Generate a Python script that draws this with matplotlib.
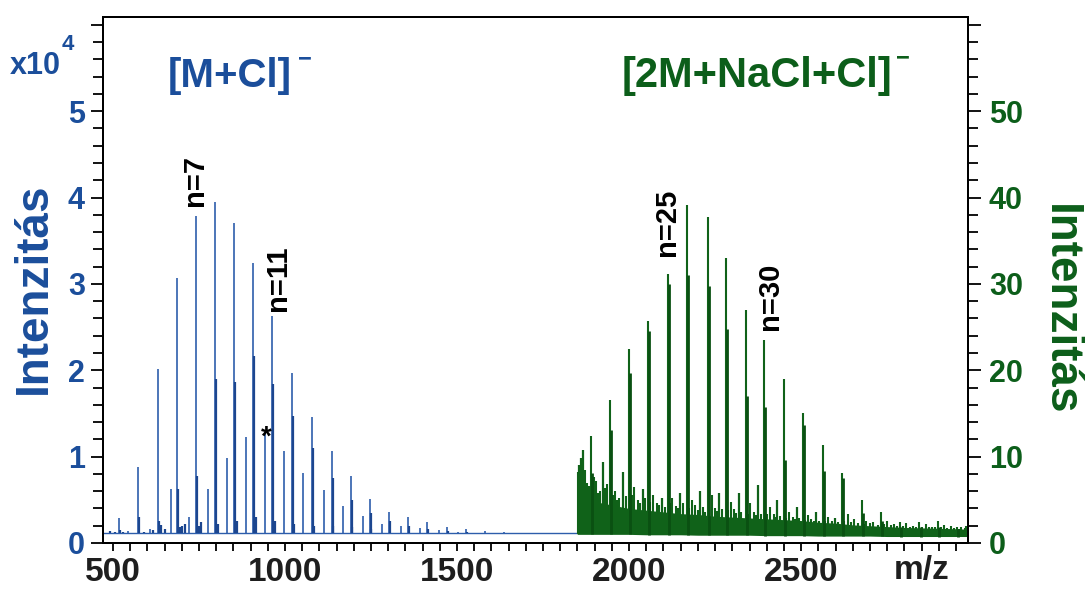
import matplotlib
matplotlib.use("Agg")
import matplotlib.pyplot as plt
import numpy as np
from matplotlib.ticker import MultipleLocator

# ---------------- data ----------------
# [M+Cl]- series, left axis (x10^4)
blue_main_mz = [517, 574, 630, 685, 742, 797, 853, 908, 963, 1019, 1079, 1136,
                1191, 1247, 1302, 1358, 1414, 1470, 1525, 1581, 1637]
blue_main_int = [0.29, 0.885, 2.01, 3.07, 3.79, 3.95, 3.71, 3.24, 2.63, 1.97, 1.46,
                 1.07, 0.77, 0.51, 0.36, 0.30, 0.24, 0.19, 0.16, 0.14, 0.13]
blue_comp_int = [0.15, 0.30, 0.25, 0.62, 0.77, 1.90, 1.86, 2.16, 1.84, 1.47, 1.10,
                 0.75, 0.50, 0.35, 0.25, 0.20, 0.16, 0.14, 0.13, 0.12, 0.12]
blue_sec_mz = [545, 607, 668, 720, 775, 830, 887, 942, 998, 1053, 1113, 1169,
               1226, 1281, 1336, 1392, 1448, 1503, 1560]
blue_sec_int = [0.14, 0.16, 0.62, 0.30, 0.63, 0.98, 1.23, 1.28, 1.06, 0.81, 0.61,
                0.43, 0.31, 0.22, 0.20, 0.17, 0.15, 0.13, 0.12]
blue_small_mz = [490, 505, 530, 590, 615, 640, 650, 695, 700, 709, 750, 755, 805,
                 860, 915, 970, 1025, 1085, 1140, 1195, 1250]
blue_small_int = [0.14, 0.13, 0.13, 0.13, 0.15, 0.21, 0.16, 0.18, 0.20, 0.22, 0.20,
                  0.24, 0.22, 0.25, 0.30, 0.25, 0.22, 0.20, 0.20, 0.18, 0.16]
blue_baseline_mz = [471, 1845]
blue_baseline_int = [0.11, 0.11]

# [2M+NaCl+Cl]- series, right axis
green_main_mz = [1890, 1945, 2000, 2056, 2112, 2168, 2229, 2282, 2339, 2393, 2449,
                 2505, 2563, 2618, 2676, 2733, 2788, 2844, 2899, 2953]
green_main_int = [12.4, 16.6, 22.5, 25.7, 31.2, 39.1, 37.7, 33.0, 27.0, 23.5, 19.0,
                  15.0, 11.4, 8.1, 5.0, 3.6, 2.4, 2.4, 2.5, 1.9]
green_comp_int = [8.1, 13.1, 19.7, 24.5, 30.0, 31.0, 29.7, 24.8, 17.0, 15.8, 9.6,
                  13.7, 8.3, 7.5, 3.5, 2.5, 1.9, 1.9, 1.9, 1.6]
green_sec_mz = [1853, 1860, 1867, 1924, 1983, 2039, 2095, 2148, 2206, 2262, 2318,
                2374, 2431, 2488, 2544, 2599]
green_sec_int = [9.0, 9.8, 10.8, 9.4, 8.2, 6.3, 5.2, 5.8, 6.0, 5.8, 5.8, 6.7, 5.0,
                 4.2, 3.6, 2.9]
green_small_mz = [1851, 1856, 1863, 1872, 1878, 1884, 1897, 1905, 1911, 1915, 1931,
                  1935, 1952, 1960, 1966, 1972, 1990, 2008, 2015, 2025, 2031, 2046,
                  2062, 2070, 2080, 2087, 2103, 2118, 2125, 2135, 2141, 2157, 2175,
                  2182, 2192, 2199, 2214, 2222, 2240, 2250, 2256, 2270, 2288, 2295,
                  2305, 2312, 2326, 2345, 2352, 2362, 2368, 2382, 2400, 2410, 2420,
                  2425, 2440, 2457, 2465, 2475, 2481, 2495, 2512, 2520, 2530, 2537,
                  2552, 2570, 2578, 2590, 2608, 2626, 2635, 2645, 2655, 2665, 2683,
                  2690, 2700, 2710, 2722, 2740, 2750, 2760, 2770, 2778, 2797, 2805,
                  2815, 2825, 2834, 2852, 2862, 2871, 2880, 2890, 2906, 2915, 2925,
                  2935, 2944, 2960, 2965, 2975, 2980]
green_small_int = [8.2, 7.8, 9.0, 8.5, 7.0, 6.6, 7.6, 7.2, 5.8, 6.0, 6.4, 6.8, 5.6,
                   6.0, 5.0, 5.2, 5.4, 5.6, 6.5, 5.0, 4.6, 5.2, 4.8, 5.5, 4.6, 4.4,
                   4.2, 4.6, 5.2, 4.3, 4.0, 4.6, 4.0, 5.0, 4.4, 3.8, 4.2, 3.6, 5.5,
                   4.0, 3.7, 3.9, 3.8, 4.8, 3.9, 3.5, 3.6, 3.4, 4.6, 3.6, 3.2, 3.4,
                   3.3, 4.2, 3.3, 3.0, 3.1, 2.9, 3.6, 3.0, 2.8, 2.9, 2.7, 3.2, 2.8,
                   2.6, 2.6, 2.5, 3.0, 2.6, 2.4, 2.5, 3.3, 2.4, 2.8, 2.3, 2.2, 2.6,
                   2.3, 2.4, 2.1, 2.2, 2.5, 2.1, 2.2, 2.0, 2.0, 2.3, 1.9, 2.0, 1.9,
                   1.9, 2.2, 1.8, 1.9, 1.8, 1.8, 2.1, 1.7, 2.0, 1.7, 1.6, 1.8, 1.7,
                   2.0]
noise_mz = [1849, 1900, 1950, 2000, 2050, 2100, 2150, 2200, 2250, 2300, 2350, 2400,
            2450, 2500, 2550, 2600, 2650, 2700, 2750, 2800, 2850, 2900, 2950, 2985]
noise_hi = [5.0, 4.8, 4.4, 4.0, 3.8, 3.6, 3.4, 3.3, 3.1, 3.0, 2.9, 2.8, 2.7, 2.6,
            2.4, 2.3, 2.1, 2.0, 1.9, 1.8, 1.75, 1.7, 1.65, 1.6]
noise_lo = [1.0, 1.0, 1.0, 1.0, 0.95, 0.95, 0.95, 0.9, 0.9, 0.9, 0.9, 0.85, 0.85,
            0.85, 0.8, 0.8, 0.8, 0.8, 0.75, 0.75, 0.75, 0.75, 0.75, 0.75]

x_ticks = [500, 1000, 1500, 2000, 2500]
left_ticks = [0, 1, 2, 3, 4, 5, 6]
left_labels = ["0", "1", "2", "3", "4", "5", ""]
right_ticks = [0, 10, 20, 30, 40, 50, 60]
right_labels = ["0", "10", "20", "30", "40", "50", ""]

peak_labels = ["n=7", "n=11"]
peak_label_mz = [739, 980]
peak_label_y = [4.2, 3.07]
green_labels = ["n=25", "n=30"]
green_label_mz = [2110, 2410]
green_label_y = [37.1, 28.6]

# ---------------- styling ----------------
plt.rcParams["font.family"] = ["Liberation Sans", "DejaVu Sans"]
plt.rcParams["font.weight"] = "bold"

BLUE_TXT = "#1b4e9b"
BLUE_LINE = "#2d5dab"
BLUE_DARK = "#1c468f"
GREEN_TXT = "#0c5e1a"
GREEN_LINE = "#106219"
GREEN_DARK = "#0a5012"

fig = plt.figure(figsize=(10.85, 5.90), dpi=100)
fig.patch.set_facecolor("white")
ax = fig.add_axes([103 / 1085, 47 / 590, 865 / 1085, 526 / 590])
ax.set_xlim(471, 2985)
ax.set_ylim(0, 6.09)
ax2 = ax.twinx()
ax2.set_ylim(0, 60.9)

# blue spectrum
ax.plot(blue_baseline_mz, blue_baseline_int, color=BLUE_LINE, lw=1.0, zorder=2)
ax.vlines(blue_small_mz, 0.11, blue_small_int, colors=BLUE_DARK, lw=1.6, zorder=2)
ax.vlines(blue_sec_mz, 0.11, blue_sec_int, colors=BLUE_LINE, lw=1.2, zorder=3)
ax.vlines(blue_main_mz, 0.11, blue_main_int, colors=BLUE_LINE, lw=1.2, zorder=3)
ax.vlines(np.array(blue_main_mz) + 3, 0.11, blue_comp_int, colors=BLUE_DARK, lw=1.6,
          zorder=3)

# green spectrum
ax2.fill_between(noise_mz, noise_lo, noise_hi, color=GREEN_LINE, lw=0, zorder=2)
gbase_small = np.interp(green_small_mz, noise_mz, noise_lo)
ax2.vlines(green_small_mz, gbase_small, green_small_int, colors=GREEN_LINE, lw=1.5,
           zorder=2)
gbase_sec = np.interp(green_sec_mz, noise_mz, noise_lo)
ax2.vlines(green_sec_mz, gbase_sec, green_sec_int, colors=GREEN_LINE, lw=1.6, zorder=3)
gbase_main = np.interp(green_main_mz, noise_mz, noise_lo)
ax2.vlines(green_main_mz, gbase_main, green_main_int, colors=GREEN_LINE, lw=1.5,
           zorder=3)
ax2.vlines(np.array(green_main_mz) + 3, gbase_main, green_comp_int, colors=GREEN_DARK,
           lw=2.0, zorder=3)

# axes / ticks
for a in (ax, ax2):
    for s in a.spines.values():
        s.set_linewidth(1.4)
        s.set_color("black")

ax.set_xticks(x_ticks, [str(v) for v in x_ticks], fontsize=24, fontweight="bold",
              color="#1e1e1e")
ax.xaxis.set_minor_locator(MultipleLocator(50))
ax.tick_params(axis="x", which="both", direction="out", length=6, width=1.3, pad=4)

ax.set_yticks(left_ticks, left_labels, fontsize=22, fontweight="bold", color=BLUE_TXT)
ax.yaxis.set_minor_locator(MultipleLocator(0.2))
ax.tick_params(axis="y", which="major", direction="out", length=9, width=1.3, pad=4)
ax.tick_params(axis="y", which="minor", direction="out", length=7, width=1.3)

ax2.set_yticks(right_ticks, right_labels, fontsize=22, fontweight="bold", color=GREEN_TXT)
ax2.yaxis.set_minor_locator(MultipleLocator(2))
ax2.tick_params(axis="y", which="major", direction="out", length=9, width=1.3, pad=6)
ax2.tick_params(axis="y", which="minor", direction="out", length=7, width=1.3)

# axis titles
fig.text(34 / 1085, 1 - 288 / 590, "Intenzitás", rotation=90, ha="center",
         va="center", fontsize=33, fontweight="bold", color=BLUE_TXT)
fig.text(1060 / 1085, 1 - 310 / 590, "Intenzitás", rotation=270, ha="center",
         va="center", fontsize=33, fontweight="bold", color=GREEN_TXT)
fig.text(10 / 1085, 1 - 74 / 590, "x10", ha="left", va="baseline", fontsize=22,
         fontweight="bold", color=BLUE_TXT)
fig.text(62 / 1085, 1 - 50 / 590, "4", ha="left", va="baseline", fontsize=16,
         fontweight="bold", color=BLUE_TXT)
ax.text((922 - 103) / 865, (543 - 571) / 526, "m/z", transform=ax.transAxes,
        ha="center", va="center", fontsize=24, fontweight="bold", color="#1e1e1e")

# series titles
t1 = fig.text(168 / 1085, 1 - 87 / 590, "[M+Cl]", ha="left", va="baseline",
              fontsize=29, fontweight="bold", color=BLUE_TXT)
ax.annotate("\u2212", xy=(1, 1), xycoords=t1, xytext=(13, -2),
            textcoords="offset pixels", ha="center", va="center", fontsize=17,
            fontweight="bold", color=BLUE_TXT, annotation_clip=False)
t2 = fig.text(622 / 1085, 1 - 87 / 590, "[2M+NaCl+Cl]", ha="left", va="baseline",
              fontsize=30, fontweight="bold", color=GREEN_TXT)
ax.annotate("\u2212", xy=(1, 1), xycoords=t2, xytext=(10, -2),
            textcoords="offset pixels", ha="center", va="center", fontsize=17,
            fontweight="bold", color=GREEN_TXT, annotation_clip=False)

# peak annotations
for t, x, y in zip(peak_labels, peak_label_mz, peak_label_y):
    ax.text(x, y, t, rotation=90, ha="center", va="center", fontsize=21,
            fontweight="bold", color="black", zorder=5)
for t, x, y in zip(green_labels, green_label_mz, green_label_y):
    ax2.text(x, y, t, rotation=90, ha="center", va="center", fontsize=21,
             fontweight="bold", color="black", zorder=5)
ax.text(947, 1.22, "*", ha="center", va="center", fontsize=20, fontweight="bold",
        color="black", zorder=5)

fig.savefig("out.png", dpi=100)
